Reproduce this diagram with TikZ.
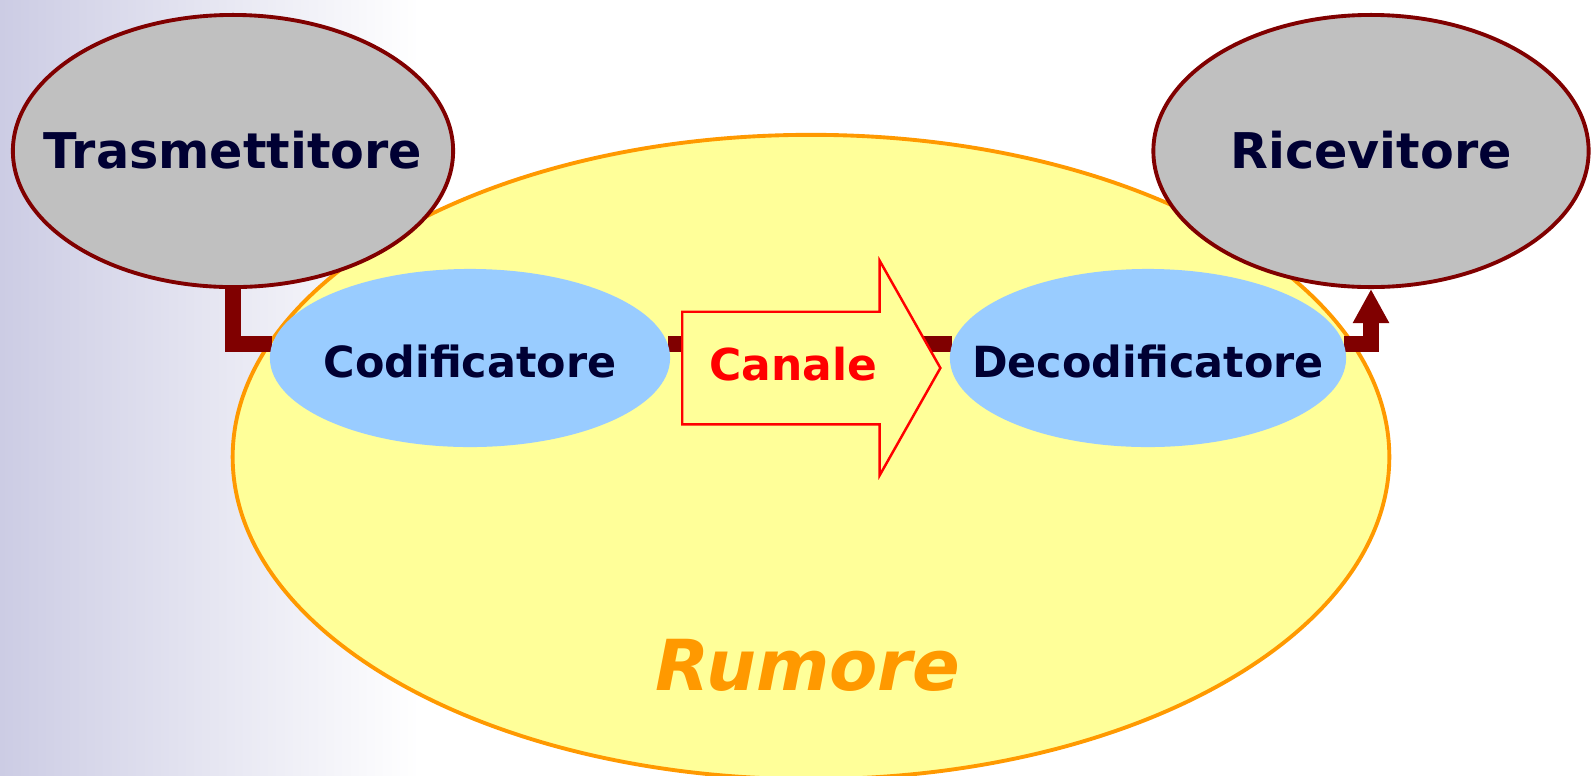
\documentclass[tikz,border=0pt]{standalone}
\usepackage{fontspec}
\setmainfont{DejaVu Sans}
\usetikzlibrary{shapes.geometric}
\usetikzlibrary{shapes.arrows}
\usetikzlibrary{arrows.meta}

\definecolor{bordeaux}{RGB}{128,0,0}
\definecolor{navy}{RGB}{0,0,51}
\definecolor{giallo}{RGB}{255,255,153}
\definecolor{azzurro}{RGB}{153,204,255}
\definecolor{grigio}{RGB}{192,192,192}
\definecolor{arancio}{RGB}{255,153,0}
\definecolor{lilla}{RGB}{204,204,228}

\pgfdeclarelayer{sfondo}
\pgfdeclarelayer{linee}
\pgfsetlayers{sfondo,linee,main}

\tikzset{
    blocco/.style={ellipse, draw=bordeaux, line width=1.1pt, fill=grigio,
        inner sep=0pt, minimum width=4.40cm, minimum height=2.72cm},
    fase/.style={ellipse, fill=azzurro, inner sep=0pt,
        minimum width=4.0cm, minimum height=1.78cm},
    testo/.style={text=navy, anchor=base, inner sep=0pt,
        font=\bfseries\fontsize{14}{16}\selectfont},
    testopiccolo/.style={testo, font=\bfseries\fontsize{12.2}{14}\selectfont},
    link/.style={draw=bordeaux, line width=0.16cm}
}

\begin{document}
\begin{tikzpicture}[x=0.01cm, y=-0.01cm]
                \useasboundingbox (0,0) rectangle (1593,775);

                \begin{pgfonlayer}{sfondo}
                    \shade[left color=lilla, right color=white] (0,0) rectangle (420,775);
                    \node[ellipse, draw=arancio, line width=1.1pt, fill=giallo, inner sep=0pt,
                        minimum width=11.56cm, minimum height=6.44cm] (rumore) at (811,457) {};
                \end{pgfonlayer}

                \node[blocco] (trasm) at (233,151) {};
                \node[testo] (trasmlabel) at (233,168) {Trasmettitore};
                \node[blocco, minimum width=4.35cm] (ricev) at (1371,151) {};
                \node[testo] (ricevlabel) at (1371,168) {Ricevitore};

                \node[fase] (cod) at (470,358) {};
                \node[testopiccolo] at ([yshift=-0.19cm]cod.center) {Codificatore};
                \node[fase, minimum width=3.96cm] (dec) at (1148,358) {};
                \node[testopiccolo] at ([yshift=-0.19cm]dec.center) {Decodificatore};

                \node[single arrow, draw=red, line width=0.7pt, fill=giallo,
                    inner xsep=0pt, inner ysep=0.55cm, minimum height=2.58cm,
                    single arrow head extend=0.51cm, single arrow tip angle=121,
                    anchor=tail] (canale) at (681,368) {};
                \node[testo, anchor=base west, text=red,
                    font=\bfseries\fontsize{12.5}{15}\selectfont]
                    at ([xshift=0.28cm, yshift=-0.12cm]canale.tail) {Canale};

                \node[text=arancio, font=\bfseries\itshape\fontsize{20}{24}\selectfont,
                    anchor=base] (rumlabel) at (808,690) {Rumore};

                \begin{pgfonlayer}{linee}
                    \draw[link] (trasm.south) |- (cod.176);
                    \draw[link] (cod.4) -- (cod.4 -| canale.tail);
                    \draw[link] (dec.176) -- (dec.176 -| canale.before head);
                    \draw[link, -{Triangle[width=0.34cm, length=0.34cm]}] (dec.4) -| (ricev.south);
                \end{pgfonlayer}
            \end{tikzpicture}
\end{document}
